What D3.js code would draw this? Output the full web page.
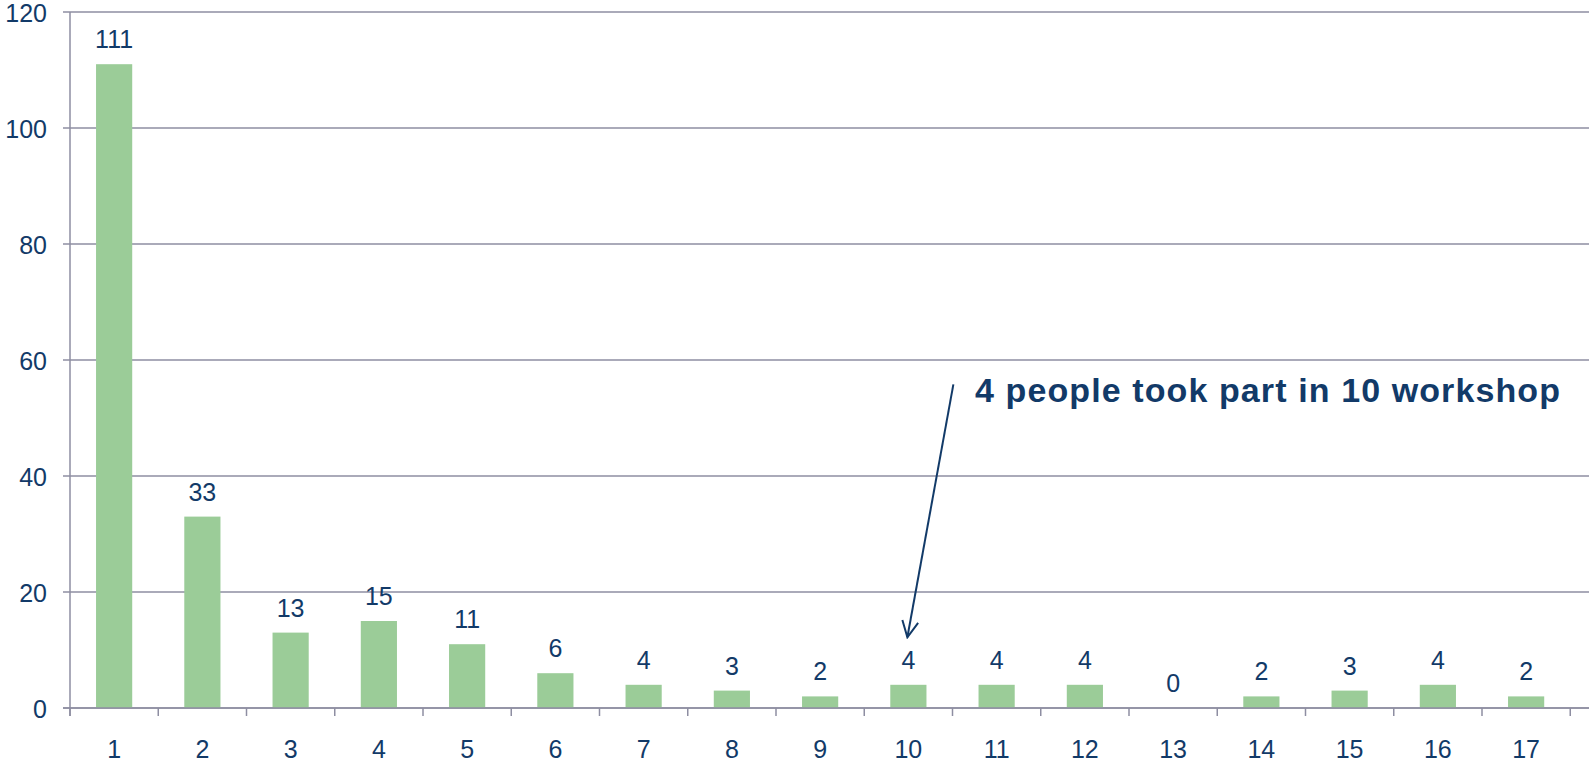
<!DOCTYPE html>
<html>
<head>
<meta charset="utf-8">
<script src="https://cdn.jsdelivr.net/npm/d3@7"></script>
<style>
  html, body { margin: 0; padding: 0; background: #fff; overflow: hidden; width: 1589px; height: 762px; }
  svg { display: block; }
  text { font-family: "Liberation Sans", Arial, sans-serif; }
</style>
</head>
<body>
<svg id="chart" width="1589" height="762"></svg>
<script>
// workshops attended -> number of people
const categories = ["1","2","3","4","5","6","7","8","9","10","11","12","13","14","15","16","17"];
const counts = [111, 33, 13, 15, 11, 6, 4, 3, 2, 4, 4, 4, 0, 2, 3, 4, 2];
const yTicks = [0, 20, 40, 60, 80, 100, 120];
const note = "4 people took part in 10 workshop";

const width = 1589, height = 762;
const margin = { top: 12, right: 0, bottom: 54, left: 70 };
const navy = "#123a68", grid = "#8e8ea2", green = "#9bcc98";

const svg = d3.select("#chart");

const x = d3.scaleBand()
  .domain(categories)
  .range([margin.left, margin.left + 88.25 * categories.length])
  .paddingInner(0.59)
  .paddingOuter(0.295);

const y = d3.scaleLinear()
  .domain([0, 120])
  .range([height - margin.bottom, margin.top]);

// horizontal grid
svg.append("g")
  .selectAll("line")
  .data(yTicks)
  .join("line")
  .attr("x1", margin.left - 7)
  .attr("x2", width)
  .attr("y1", d => y(d))
  .attr("y2", d => y(d))
  .attr("stroke", grid)
  .attr("stroke-width", 1.5);

// y axis line
svg.append("line")
  .attr("x1", margin.left).attr("x2", margin.left)
  .attr("y1", y(120)).attr("y2", y(0) + 8)
  .attr("stroke", grid).attr("stroke-width", 1.5);

// y labels
svg.append("g")
  .selectAll("text")
  .data(yTicks)
  .join("text")
  .attr("x", margin.left - 23)
  .attr("y", d => y(d) + 10)
  .attr("text-anchor", "end")
  .attr("fill", navy)
  .attr("font-size", 25)
  .text(d => d);

// x ticks at band boundaries
const step = x.step();
svg.append("g")
  .selectAll("line")
  .data(d3.range(categories.length + 1))
  .join("line")
  .attr("x1", i => margin.left + i * step)
  .attr("x2", i => margin.left + i * step)
  .attr("y1", y(0))
  .attr("y2", y(0) + 8)
  .attr("stroke", grid)
  .attr("stroke-width", 1.5);

// bars
svg.append("g")
  .selectAll("rect")
  .data(counts)
  .join("rect")
  .attr("x", (d, i) => x(categories[i]))
  .attr("width", x.bandwidth())
  .attr("y", d => y(d))
  .attr("height", d => y(0) - y(d))
  .attr("fill", green);

// redraw baseline over bars
svg.append("line")
  .attr("x1", margin.left - 7).attr("x2", width)
  .attr("y1", y(0)).attr("y2", y(0))
  .attr("stroke", grid).attr("stroke-width", 1.5);

// value labels
svg.append("g")
  .selectAll("text")
  .data(counts)
  .join("text")
  .attr("x", (d, i) => x(categories[i]) + x.bandwidth() / 2)
  .attr("y", d => y(d) - 16)
  .attr("text-anchor", "middle")
  .attr("fill", navy)
  .attr("font-size", 25)
  .text(d => d);

// category labels
svg.append("g")
  .selectAll("text")
  .data(categories)
  .join("text")
  .attr("x", d => x(d) + x.bandwidth() / 2)
  .attr("y", y(0) + 50)
  .attr("text-anchor", "middle")
  .attr("fill", navy)
  .attr("font-size", 25)
  .text(d => d);

// annotation
svg.append("defs").append("marker")
  .attr("id", "arrow")
  .attr("viewBox", "0 0 20 20")
  .attr("refX", 18).attr("refY", 10)
  .attr("markerWidth", 20).attr("markerHeight", 20)
  .attr("markerUnits", "userSpaceOnUse")
  .attr("orient", "auto")
  .append("path")
  .attr("d", "M2,2 L18,10 L2,18")
  .attr("fill", "none")
  .attr("stroke", navy)
  .attr("stroke-width", 2);

const target = x("10") + x.bandwidth() / 2;
svg.append("line")
  .attr("x1", target + 45).attr("y1", y(55.8))
  .attr("x2", target - 1).attr("y2", y(12.2))
  .attr("stroke", navy)
  .attr("stroke-width", 2)
  .attr("marker-end", "url(#arrow)");

svg.append("text")
  .attr("x", 975)
  .attr("y", 402)
  .attr("fill", navy)
  .attr("font-size", 34)
  .attr("font-weight", "bold")
  .attr("letter-spacing", 1.1)
  .text(note);
</script>
</body>
</html>
